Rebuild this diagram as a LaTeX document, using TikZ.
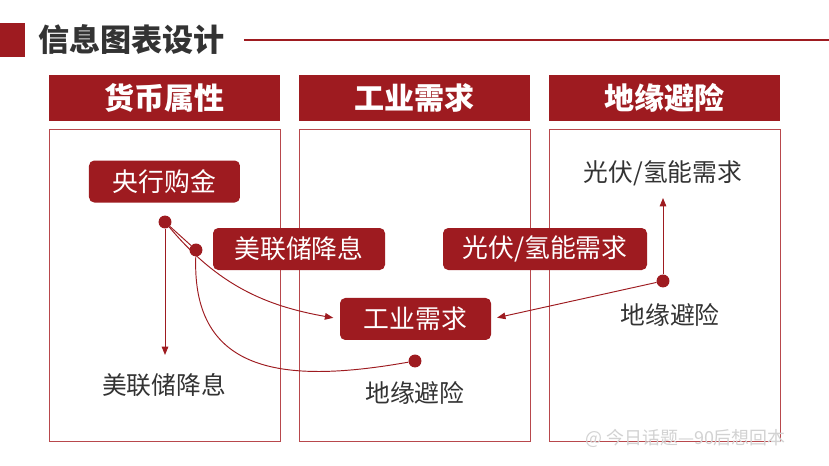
\documentclass[tikz,border=0pt]{standalone}
\usepackage{fontspec}
\setmainfont{Noto Sans CJK SC}
\usetikzlibrary{arrows.meta,positioning,calc}
\definecolor{wine}{HTML}{9E1B20}
\definecolor{frame}{HTML}{B8484C}
\definecolor{ink}{HTML}{333333}
\definecolor{faint}{HTML}{D2D2D2}
\tikzset{
  bar/.style={fill=wine, draw=none, minimum width=7.7cm, minimum height=1.533cm, inner sep=0pt, text=white, font=\fontsize{28.5}{30}\selectfont\bfseries},
  panel/.style={draw=frame, line width=0.7pt, fill=white, minimum width=7.7cm, minimum height=10.4cm, inner sep=0pt},
  tag/.style={fill=wine, rounded corners=5pt, minimum height=1.4cm, inner sep=0pt, text=white, font=\fontsize{24.5}{26}\selectfont},
  plain/.style={inner sep=0pt, text=ink, font=\fontsize{23.5}{25}\selectfont},
  dot/.style={circle, fill=wine, minimum size=0.43cm, inner sep=0pt},
  link/.style={draw=wine, line width=0.9pt},
  arr/.style={link, -{Triangle[length=2.8mm,width=2.2mm]}},
}
\begin{document}
\begin{tikzpicture}
  \useasboundingbox (0,0) rectangle (27.633,15.533);
  % title row
  \node[fill=wine, minimum width=0.833cm, minimum height=1.133cm, inner sep=0pt] (mark) at (0.417,14.2) {};
  \node[anchor=west, inner sep=0pt, text=ink, font=\fontsize{29.5}{31}\selectfont\bfseries] (title) at (1.267,14.2) {信息图表设计};
  \coordinate (edge) at (27.633,14.2);
  \draw[link, line width=1.1pt, shorten <=0.63cm] (title.east) -- (edge);
  % three columns
  \foreach \x/\name [count=\i] in {5.483/货币属性, 13.817/工业需求, 22.15/地缘避险} {
    \node[bar] (h\i) at (\x,12.267) {\name};
    \node[panel] (p\i) at (\x,6.033) {};
  }
  % watermark
  \node[text=faint, inner sep=0pt, font=\fontsize{17}{18}\selectfont] (wm) at (22.85,0.93) {@ 今日话题—90后想回本};
  % boxes
  \node[tag, minimum width=5.033cm] (cbank) at (5.483,9.483) {央行购金};
  \node[tag, minimum width=5.733cm] (fed) at (9.967,7.233) {美联储降息};
  \node[tag, minimum width=5.033cm] (ind) at (13.85,4.9) {工业需求};
  \node[tag, minimum width=6.8cm] (solar) at (18.167,7.233) {光伏/氢能需求};
  % dots and plain labels
  \node[dot] (d1) at (5.5,8.133) {};
  \node[dot] (d2) at (6.533,7.2) {};
  \node[dot] (d3) at (13.833,3.5) {};
  \node[dot] (d4) at (22.1,6.167) {};
  \node[plain] (fedtxt) at (5.467,2.7) {美联储降息};
  \node[plain] (geotxt) at (13.833,2.433) {地缘避险};
  \node[plain] (solartxt) at (22.1,9.767) {光伏/氢能需求};
  \node[plain] (geotxt2) at (22.333,5.033) {地缘避险};
  \coordinate (e1) at (5.5,3.7);
  \coordinate (e2) at (22.1,8.933);
  % connectors
  \draw[arr] (d1) -- (e1);
  \draw[link] (d1) -- (d2);
  \draw[arr, shorten >=0.22cm] (d1) to[out=-50, in=170] (ind.west);
  \draw[link] (d2) to[out=-92, in=190, looseness=1.3] (d3);
  \draw[arr] (d4) -- (e2);
  \draw[arr, shorten >=0.2cm] (d4) -- (ind.east);
\end{tikzpicture}
\end{document}
